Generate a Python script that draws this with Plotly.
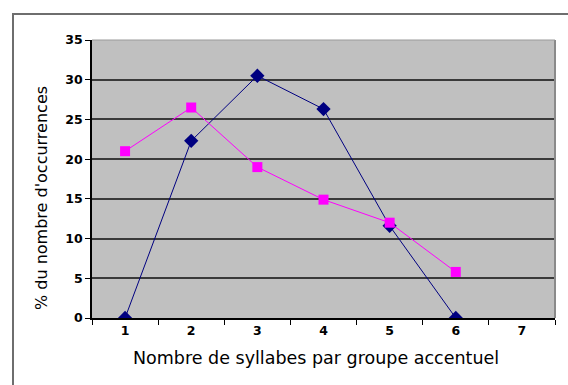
import plotly.graph_objects as go

# Number of syllables per accentual group
categories = ["1", "2", "3", "4", "5", "6", "7"]
x_series = ["1", "2", "3", "4", "5", "6"]
serie_bleue = [0.0, 22.3, 30.5, 26.3, 11.6, 0.0]
serie_rose = [21.0, 26.5, 19.0, 14.9, 12.0, 5.8]
y_ticks = [0, 5, 10, 15, 20, 25, 30, 35]

W, H = 568, 385
ML, MR, MT, MB = 92, 13, 40, 67
pw, ph = W - ML - MR, H - MT - MB

fig = go.Figure()
fig.add_trace(go.Scatter(
    x=x_series, y=serie_bleue, mode="lines+markers",
    line=dict(color="#000080", width=1),
    marker=dict(symbol="diamond", size=11, color="#000080"),
    showlegend=False,
))
fig.add_trace(go.Scatter(
    x=x_series, y=serie_rose, mode="lines+markers",
    line=dict(color="#FF00FF", width=1),
    marker=dict(symbol="square", size=10, color="#FF00FF"),
    showlegend=False,
))

tick_font = dict(family="DejaVu Sans", size=12.5, color="#000000", weight="bold")
title_font = dict(family="DejaVu Sans", size=17.5, color="#000000")

fig.update_layout(
    width=W, height=H,
    margin=dict(l=ML, r=MR, t=MT, b=MB),
    paper_bgcolor="#FFFFFF",
    plot_bgcolor="#C0C0C0",
    xaxis=dict(
        type="category", categoryorder="array", categoryarray=categories,
        range=[-0.5, 6.5], tickson="boundaries",
        ticks="outside", ticklen=5, tickcolor="#000000", tickwidth=1,
        showline=True, linecolor="#000000", linewidth=1.5,
        showgrid=False, zeroline=False,
        tickfont=tick_font,
        fixedrange=True,
    ),
    yaxis=dict(
        range=[0, 35], tickvals=y_ticks,
        ticks="outside", ticklen=5, tickcolor="#000000", tickwidth=1,
        showline=True, linecolor="#000000", linewidth=1.5,
        showgrid=True, gridcolor="#3a3a3a", gridwidth=1.5,
        zeroline=False,
        tickfont=tick_font,
        fixedrange=True,
    ),
    shapes=[
        # outer chart frame
        dict(type="rect", xref="paper", yref="paper",
             x0=(13 - ML) / pw, x1=(575 - ML) / pw,
             y0=(MT + ph - 395) / ph, y1=(MT + ph - 14) / ph,
             line=dict(color="#6e6e6e", width=2), fillcolor="rgba(0,0,0,0)",
             layer="below"),
        # plot area right and top borders
        dict(type="line", xref="paper", yref="paper",
             x0=1, x1=1, y0=0, y1=1,
             line=dict(color="#8a8a8a", width=2)),
        dict(type="line", xref="paper", yref="paper",
             x0=0, x1=1, y0=1, y1=1,
             line=dict(color="#9a9a9a", width=1)),
    ],
    annotations=[
        dict(text="Nombre de syllabes par groupe accentuel",
             xref="paper", yref="paper",
             x=(316 - ML) / pw, y=(MT + ph - 358) / ph,
             showarrow=False, xanchor="center", yanchor="middle",
             font=title_font),
        dict(text="% du nombre d'occurrences",
             xref="paper", yref="paper",
             x=(41 - ML) / pw, y=(MT + ph - 198) / ph, textangle=-90,
             showarrow=False, xanchor="center", yanchor="middle",
             font=dict(title_font, size=16)),
    ],
)

fig.write_html("out.html")
